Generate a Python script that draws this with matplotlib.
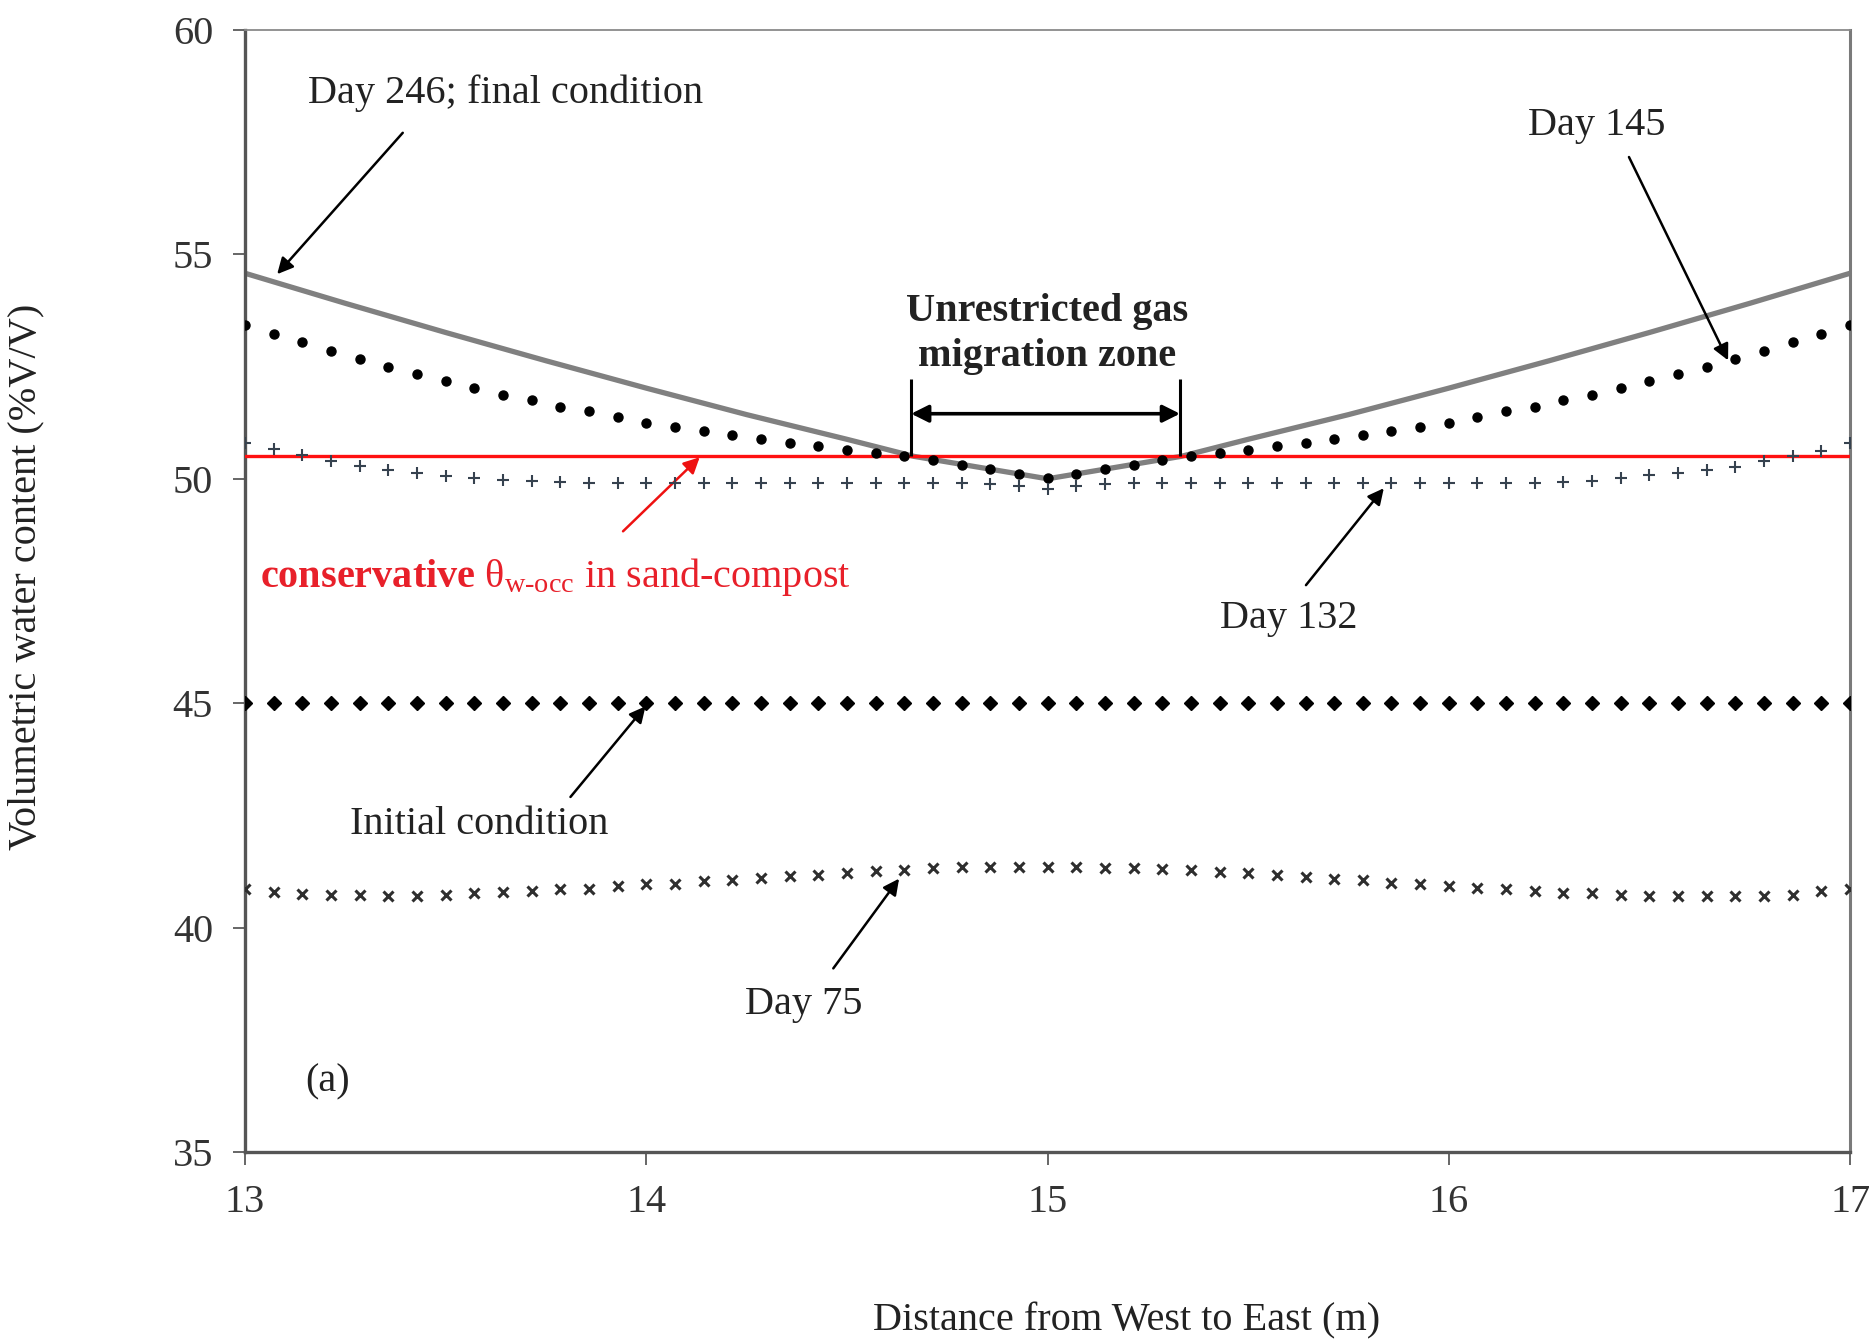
import numpy as np
import matplotlib
matplotlib.use("Agg")
import matplotlib.pyplot as plt

plt.rcParams['font.family'] = ['Liberation Serif', 'DejaVu Serif']
plt.rcParams['mathtext.fontset'] = 'custom'
plt.rcParams['mathtext.rm'] = 'Liberation Serif'
plt.rcParams['mathtext.bf'] = 'Liberation Serif:bold'
plt.rcParams['mathtext.it'] = 'Liberation Serif:italic'

# distance grid of the profile (m), 57 nodes between 13 and 17
distance = np.linspace(13, 17, 57)

# volumetric water content (%V/V) per node
initial_cond = [45.0] * 57

day_75 = [40.85, 40.79, 40.74, 40.73, 40.73, 40.71, 40.71, 40.73, 40.76, 40.79,
          40.81, 40.85, 40.87, 40.92, 40.96, 40.98, 41.03, 41.07, 41.10, 41.14,
          41.18, 41.22, 41.25, 41.29, 41.32, 41.34, 41.35, 41.35, 41.34, 41.34,
          41.33, 41.33, 41.31, 41.28, 41.23, 41.22, 41.18, 41.13, 41.08, 41.05,
          40.99, 40.96, 40.92, 40.88, 40.85, 40.81, 40.77, 40.76, 40.73, 40.71,
          40.71, 40.71, 40.71, 40.71, 40.73, 40.81, 40.85]

day_132 = [50.79, 50.66, 50.52, 50.39, 50.28, 50.20, 50.13, 50.06, 50.01, 49.97,
           49.94, 49.92, 49.90, 49.90, 49.90, 49.90, 49.90, 49.90, 49.90, 49.90,
           49.90, 49.90, 49.90, 49.90, 49.90, 49.90, 49.88, 49.84, 49.77, 49.84,
           49.88, 49.90, 49.90, 49.90, 49.90, 49.90, 49.90, 49.90, 49.90, 49.90,
           49.90, 49.90, 49.90, 49.90, 49.90, 49.91, 49.93, 49.96, 50.02, 50.09,
           50.13, 50.20, 50.27, 50.39, 50.50, 50.63, 50.79]

day_145 = [53.43, 53.23, 53.05, 52.85, 52.68, 52.50, 52.34, 52.17, 52.02, 51.87,
           51.75, 51.61, 51.50, 51.37, 51.25, 51.15, 51.06, 50.97, 50.88, 50.80,
           50.72, 50.64, 50.57, 50.50, 50.41, 50.31, 50.21, 50.11, 50.02, 50.11,
           50.21, 50.31, 50.41, 50.50, 50.57, 50.64, 50.72, 50.80, 50.88, 50.97,
           51.06, 51.15, 51.25, 51.37, 51.50, 51.61, 51.75, 51.87, 52.02, 52.17,
           52.34, 52.50, 52.68, 52.85, 53.05, 53.23, 53.43]

# final condition is drawn as a continuous curve
dist_246 = [13.0, 13.25, 13.5, 13.75, 14.0, 14.25, 14.5, 14.667, 15.0,
            15.333, 15.5, 15.75, 16.0, 16.25, 16.5, 16.75, 17.0]
day_246 = [54.58, 53.91, 53.26, 52.63, 52.02, 51.43, 50.88, 50.50, 50.00,
           50.50, 50.88, 51.43, 52.02, 52.63, 53.26, 53.91, 54.58]

theta_occ = 50.5          # conservative occlusion water content
zone_edges = [14.66, 15.33]  # unrestricted gas migration zone

FS = 29

fig = plt.figure(figsize=(18.75, 13.41), dpi=100)
ax = fig.add_axes([0.1307, 0.141, 0.856, 0.8366])

ax.plot(dist_246, day_246, '-', color='#808080', lw=3.8, zorder=2)
ax.plot(distance, day_145, 'o', color='black', ms=6.5, ls='none', zorder=4)
ax.plot(distance, day_132, '+', color='#36424f', ms=9, mew=1.5, ls='none', zorder=4)
ax.plot(distance, initial_cond, 'D', color='black', ms=7.5, ls='none', zorder=4)
ax.plot(distance, day_75, 'x', color='#2e2e2e', ms=6.5, mew=2.2, ls='none', zorder=4)
ax.axhline(theta_occ, color='#ff1010', lw=2.4, zorder=3)

ax.set_xlim(13, 17)
ax.set_ylim(35, 60)
ax.set_xticks([13, 14, 15, 16, 17])
ax.set_yticks([35, 40, 45, 50, 55, 60])
ax.tick_params(direction='out', length=9, width=1.4, pad=14, labelsize=FS, colors='#333333')
ax.tick_params(color='#666666')

for side in ['left', 'bottom']:
    ax.spines[side].set_linewidth(2.4)
    ax.spines[side].set_color('#555555')
ax.spines['right'].set_linewidth(2.2)
ax.spines['right'].set_color('#7a7a7a')
ax.spines['top'].set_linewidth(1.3)
ax.spines['top'].set_color('#8a8a8a')

ax.set_xlabel('Distance from West to East (m)', fontsize=FS, color='#222222')
ax.xaxis.set_label_coords(0.5495, -0.134)
ax.set_ylabel('Volumetric water content (%V/V)', fontsize=FS, color='#222222')
ax.yaxis.set_label_coords(-0.125, 0.513)

txt = dict(fontsize=FS, color='#222222', va='center', ha='left')
arrow = dict(arrowstyle='-|>', color='black', lw=1.8, mutation_scale=24,
             shrinkA=0, shrinkB=0)

ax.text(13.158, 58.59, 'Day 246; final condition', **txt)
ax.annotate('', xy=(13.08, 54.56), xytext=(13.393, 57.71), arrowprops=arrow)

ax.text(16.198, 57.87, 'Day 145', **txt)
ax.annotate('', xy=(16.696, 52.64), xytext=(16.449, 57.17), arrowprops=arrow)

ax.text(15.0, 53.23, 'Unrestricted gas\nmigration zone', fontsize=FS,
        fontweight='bold', color='#222222', ha='center', va='center',
        multialignment='center', linespacing=1.3)
ax.vlines(zone_edges, theta_occ, 52.23, color='black', lw=2.2, zorder=5)
ax.annotate('', xy=(zone_edges[0], 51.45), xytext=(zone_edges[1], 51.45),
            arrowprops=dict(arrowstyle='<|-|>', color='black', lw=2.6,
                            mutation_scale=26, shrinkA=0, shrinkB=0))

ax.text(13.036, 47.81,
        r'$\mathbf{conservative}$ $\mathrm{\theta}_{\mathrm{w\text{-}occ}}$ in sand-compost',
        fontsize=FS, color='#e8202a', va='center', ha='left')
ax.annotate('', xy=(14.133, 50.48), xytext=(13.942, 48.83),
            arrowprops=dict(arrow, color='#ee1111'))

ax.text(15.429, 46.88, 'Day 132', **txt)
ax.annotate('', xy=(15.838, 49.79), xytext=(15.644, 47.63), arrowprops=arrow)

ax.text(13.262, 42.29, 'Initial condition', **txt)
ax.annotate('', xy=(13.998, 44.93), xytext=(13.811, 42.91), arrowprops=arrow)

ax.text(14.246, 38.29, 'Day 75', **txt)
ax.annotate('', xy=(14.63, 41.09), xytext=(14.466, 39.09), arrowprops=arrow)

ax.text(13.149, 36.56, '(a)', **txt)

fig.savefig('out.png', dpi=100)
